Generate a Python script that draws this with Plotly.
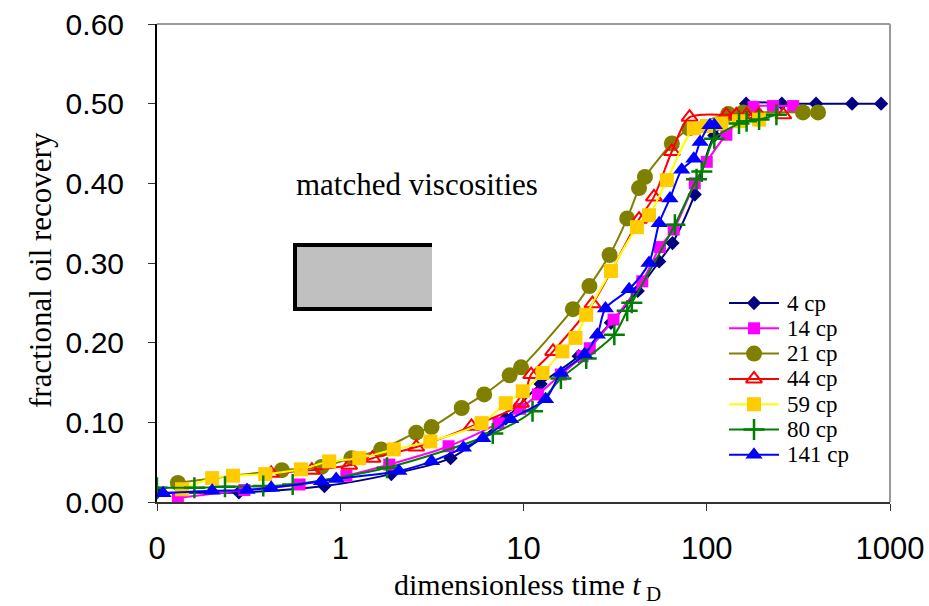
import plotly.graph_objects as go

# ---- data ----
x_4 = [0.1, 0.28, 0.82, 1.9, 4.0, 8.0, 12.4, 20, 30, 42, 55, 65, 86, 110, 164, 257, 395, 621, 894]
y_4 = [0.012, 0.012, 0.02, 0.035, 0.055, 0.105, 0.148, 0.183, 0.225, 0.265, 0.302, 0.325, 0.386, 0.46, 0.50, 0.50, 0.50, 0.50, 0.50]

x_14 = [0.13, 0.3, 0.6, 1.08, 1.85, 3.9, 7.3, 9.6, 12, 16, 21, 23, 31, 44.5, 55.5, 66, 86, 100, 128, 180, 230, 296]
y_14 = [0.005, 0.015, 0.022, 0.033, 0.047, 0.07, 0.099, 0.117, 0.135, 0.16, 0.183, 0.193, 0.229, 0.277, 0.32, 0.342, 0.40, 0.427, 0.461, 0.496, 0.497, 0.497]

x_21 = [0.13, 0.48, 0.79, 1.15, 1.67, 2.6, 3.15, 4.6, 6.1, 8.4, 9.7, 18.6, 22.9, 29.5, 36.8, 42.7, 46, 64.5, 80, 131, 158, 335, 405]
y_21 = [0.024, 0.04, 0.044, 0.055, 0.066, 0.087, 0.094, 0.118, 0.135, 0.159, 0.169, 0.242, 0.271, 0.31, 0.356, 0.394, 0.408, 0.45, 0.469, 0.487, 0.489, 0.489, 0.489]

x_44 = [0.42, 0.7, 1.12, 1.5, 2.6, 5.2, 9.7, 11, 14.5, 23.8, 42.7, 51.5, 64.5, 80.6, 128, 145, 165, 193, 262]
y_44 = [0.036, 0.04, 0.046, 0.055, 0.069, 0.095, 0.124, 0.16, 0.189, 0.249, 0.355, 0.383, 0.44, 0.483, 0.486, 0.486, 0.486, 0.486, 0.486]

x_59 = [0.137, 0.2, 0.26, 0.39, 0.61, 0.87, 1.27, 1.96, 3.1, 5.9, 8.0, 9.9, 12.7, 16.3, 19.2, 22, 30, 41.6, 48.4, 60.6, 85, 100, 120, 150, 193]
y_59 = [0.016, 0.03, 0.033, 0.035, 0.041, 0.051, 0.055, 0.066, 0.076, 0.099, 0.124, 0.139, 0.162, 0.189, 0.206, 0.235, 0.29, 0.345, 0.36, 0.404, 0.469, 0.472, 0.475, 0.478, 0.48]

x_80 = [0.1, 0.16, 0.235, 0.38, 0.55, 1.8, 6.8, 11.2, 16, 22, 31.3, 36.8, 39, 67, 88, 94, 110, 150, 165, 193, 240]
y_80 = [0.018, 0.018, 0.019, 0.02, 0.022, 0.043, 0.086, 0.114, 0.155, 0.18, 0.21, 0.24, 0.25, 0.348, 0.405, 0.415, 0.456, 0.475, 0.478, 0.48, 0.486]

x_141 = [0.108, 0.2, 0.31, 0.42, 0.79, 0.95, 2.09, 3.15, 4.7, 6.0, 8.5, 13.2, 16, 21.5, 25.3, 28, 37.7, 48.4, 55, 63, 73, 85, 92, 104, 110]
y_141 = [0.011, 0.014, 0.015, 0.018, 0.026, 0.029, 0.039, 0.051, 0.068, 0.08, 0.104, 0.129, 0.162, 0.185, 0.21, 0.243, 0.267, 0.30, 0.35, 0.381, 0.417, 0.431, 0.452, 0.473, 0.473]

series_names = ["4 cp", "14 cp", "21 cp", "44 cp", "59 cp", "80 cp", "141 cp"]
x_tickvals = [0.1, 1, 10, 100, 1000]
x_ticktext = ["0", "1", "10", "100", "1000"]

# ---- styles ----
styles = [
    dict(line=dict(color="#000080", width=2), marker=dict(symbol="diamond", size=11, color="#000080")),
    dict(line=dict(color="#FF00FF", width=2), marker=dict(symbol="square", size=12, color="#FF00FF")),
    dict(line=dict(color="#808000", width=2), marker=dict(symbol="circle", size=16, color="#808000")),
    dict(line=dict(color="#FF0000", width=2), marker=dict(symbol="triangle-up-open", size=14, color="#FF0000", line=dict(width=2, color="#FF0000"))),
    dict(line=dict(color="#FFFF00", width=2), marker=dict(symbol="square", size=14, color="#FFCC00")),
    dict(line=dict(color="#008000", width=2), marker=dict(symbol="cross-thin", size=15, color="#008000", line=dict(width=2.5, color="#008000"))),
    dict(line=dict(color="#0000FF", width=2), marker=dict(symbol="triangle-up", size=15, color="#0000FF")),
]

xs = [x_4, x_14, x_21, x_44, x_59, x_80, x_141]
ys = [y_4, y_14, y_21, y_44, y_59, y_80, y_141]

SERIF = "Liberation Serif, Times New Roman, serif"

L, R, T, B = 157, 39, 24, 104
W, H = 929, 606
pw, ph = W - L - R, H - T - B

def px(xp):
    return (xp - L) / pw

def py(yp):
    return 1 - (yp - T) / ph

fig = go.Figure()
for name, xv, yv, st in zip(series_names, xs, ys, styles):
    fig.add_trace(go.Scatter(
        x=xv, y=yv, name=name, mode="lines+markers",
        line=dict(shape="spline", smoothing=0.8, **st["line"]),
        marker=st["marker"], showlegend=False,
    ))

# ---- legend (keys on an invisible overlay axis spanning the plot area) ----
leg_y0, leg_dy = 303, 25.3
leg_x0, leg_x1, leg_tx = 729, 779, 785
for i, (name, st) in enumerate(zip(series_names, styles)):
    yy = py(leg_y0 + i * leg_dy)
    fig.add_trace(go.Scatter(x=[px(leg_x0), px(leg_x1)], y=[yy, yy], mode="lines",
                             line=dict(color=st["line"]["color"], width=2),
                             xaxis="x2", yaxis="y2", showlegend=False, hoverinfo="skip"))
    fig.add_trace(go.Scatter(x=[px((leg_x0 + leg_x1) / 2)], y=[yy], mode="markers",
                             marker=st["marker"], xaxis="x2", yaxis="y2",
                             showlegend=False, hoverinfo="skip", cliponaxis=False))
    fig.add_annotation(text=name, xref="paper", yref="paper", x=px(leg_tx), y=yy,
                       xanchor="left", yanchor="middle", showarrow=False,
                       font=dict(family=SERIF, size=23, color="black"))

# gray box with open right side border
x0, x1 = px(295), px(432)
yt, yb = py(245), py(309)
fig.add_shape(type="rect", xref="paper", yref="paper", x0=x0, x1=x1, y0=yb, y1=yt,
              fillcolor="#C0C0C0", line=dict(width=0), layer="above")
fig.add_shape(type="path", xref="paper", yref="paper",
              path=f"M {x1},{yt} L {x0},{yt} L {x0},{yb} L {x1},{yb}",
              line=dict(color="black", width=4), layer="above")
# top and right gray frame
fig.add_shape(type="line", xref="paper", yref="paper", x0=0, x1=1, y0=1, y1=1,
              line=dict(color="#9a9a9a", width=2))
fig.add_shape(type="line", xref="paper", yref="paper", x0=1, x1=1, y0=0, y1=1,
              line=dict(color="#9a9a9a", width=2))

fig.add_annotation(text="matched viscosities", xref="paper", yref="paper",
                   x=px(417), y=py(185), xanchor="center", yanchor="middle", showarrow=False,
                   font=dict(family=SERIF, size=31, color="black"))
# axis titles
fig.add_annotation(text="fractional oil recovery", xref="paper", yref="paper",
                   x=px(40), y=py(270), xanchor="center", yanchor="middle",
                   textangle=-90, showarrow=False,
                   font=dict(family=SERIF, size=31, color="black"))
fig.add_annotation(text="dimensionless time <i>t</i><sub> D</sub>", xref="paper", yref="paper",
                   x=px(527), y=py(587), xanchor="center", yanchor="middle", showarrow=False,
                   font=dict(family=SERIF, size=30, color="black"))

fig.update_layout(
    width=W, height=H,
    margin=dict(l=L, r=R, t=T, b=B),
    paper_bgcolor="white", plot_bgcolor="white",
    showlegend=False,
    xaxis=dict(type="log", range=[-1, 3], tickvals=x_tickvals, ticktext=x_ticktext,
               showgrid=False, zeroline=False, showline=True, linecolor="#333333", linewidth=2,
               ticks="outside", ticklen=7, tickcolor="#333333", ticklabelstandoff=11,
               automargin=False,
               tickfont=dict(family="Liberation Sans Narrow, Arial Narrow, Liberation Sans, Arial", size=31, color="black")),
    yaxis=dict(range=[0, 0.6], dtick=0.1, tickformat=".2f",
               showgrid=False, zeroline=False, showline=True, linecolor="black", linewidth=2,
               ticks="outside", ticklen=7, tickcolor="#333333", ticklabelstandoff=18,
               automargin=False,
               tickfont=dict(family="Liberation Sans, Arial", size=30, color="black")),
    xaxis2=dict(overlaying="x", range=[0, 1], visible=False, fixedrange=True, anchor="y2"),
    yaxis2=dict(overlaying="y", range=[0, 1], visible=False, fixedrange=True, anchor="x2"),
)

fig.write_html("out.html")
